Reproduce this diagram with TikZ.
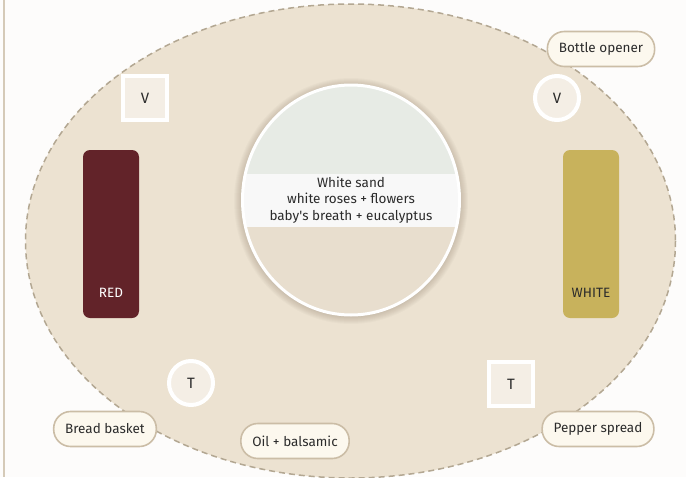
\documentclass[tikz,border=0pt]{standalone}
\usepackage{fontspec}
\setmainfont{Fira Sans}
\usetikzlibrary{shapes.geometric}
\definecolor{paper}{HTML}{FDFCFB}
\definecolor{tablefill}{HTML}{ECE2D1}
\definecolor{tableline}{HTML}{B3A792}
\definecolor{pillfill}{HTML}{FCF8EE}
\definecolor{pillline}{HTML}{CBBDA6}
\definecolor{glassfill}{HTML}{F4EEE5}
\definecolor{redwine}{HTML}{622329}
\definecolor{whitewine}{HTML}{C8B25C}
\definecolor{sage}{HTML}{E7EBE5}
\definecolor{mist}{HTML}{F8F8F8}
\definecolor{sandfill}{HTML}{E8DECE}
\definecolor{ink}{HTML}{2B2B2B}

\begin{document}
\begin{tikzpicture}[x=1pt,y=-1pt,font=\fontsize{13.5}{16.5}\selectfont,text=ink,
    pill/.style={draw=pillline,line width=1.6pt,fill=pillfill,rounded corners=17pt,
        minimum height=35pt,inner xsep=11.5pt},
    glass/.style={draw=white,line width=4pt,fill=glassfill,minimum size=44pt,inner sep=0pt,
        font=\fontsize{15}{18}\selectfont},
    bottle/.style={rounded corners=7pt,minimum width=56pt,minimum height=168pt,inner sep=0pt}]
    \useasboundingbox[fill=paper] (0,0) rectangle (686,477);
    \draw[pillline!80,line width=2pt] (4,0) -- (4,477);
    % table
    \fill[tablefill] (350.5,241) ellipse [x radius=325, y radius=237];
    \draw[tableline,line width=1.5pt,dash pattern=on 6pt off 4pt] (350.5,241) ellipse [x radius=325, y radius=237];
    % centrepiece
    \foreach \s in {1,...,8}
        \fill[black!70!brown,opacity=0.025] (351,201) ellipse [x radius=109+\s, y radius=115+\s];
    \begin{scope}
        \clip (351,200) ellipse [x radius=108.5, y radius=115];
        \fill[sage] (240,84) rectangle (462,174);
        \fill[mist] (240,174) rectangle (462,227);
        \fill[sandfill] (240,227) rectangle (462,317);
    \end{scope}
    \draw[white,line width=3pt] (351,200) ellipse [x radius=108.5, y radius=115];
    \node (centre) [align=center] at (351,200) {White sand\\white roses + flowers\\baby\textquotesingle s breath + eucalyptus};
    % bottles
    \node (red) [bottle,fill=redwine] at (111,234) {};
    \node [text=white] at ([yshift=25pt]red.south) {RED};
    \node (white) [bottle,fill=whitewine] at (591,234) {};
    \node at ([yshift=25pt]white.south) {WHITE};
    % glasses
    \node (v1) [glass] at (145,98) {V};
    \node (v2) [glass,circle] at (557,98) {V};
    \node (t1) [glass,circle] at (191,383) {T};
    \node (t2) [glass] at (511,384) {T};
    % labels
    \node (opener) [pill] at (601,49) {Bottle opener};
    \node (bread) [pill] at (105,429) {Bread basket};
    \node (oil) [pill] at (295,441) {Oil + balsamic};
    \node (pepper) [pill] at (598,429) {Pepper spread};
\end{tikzpicture}
\end{document}
